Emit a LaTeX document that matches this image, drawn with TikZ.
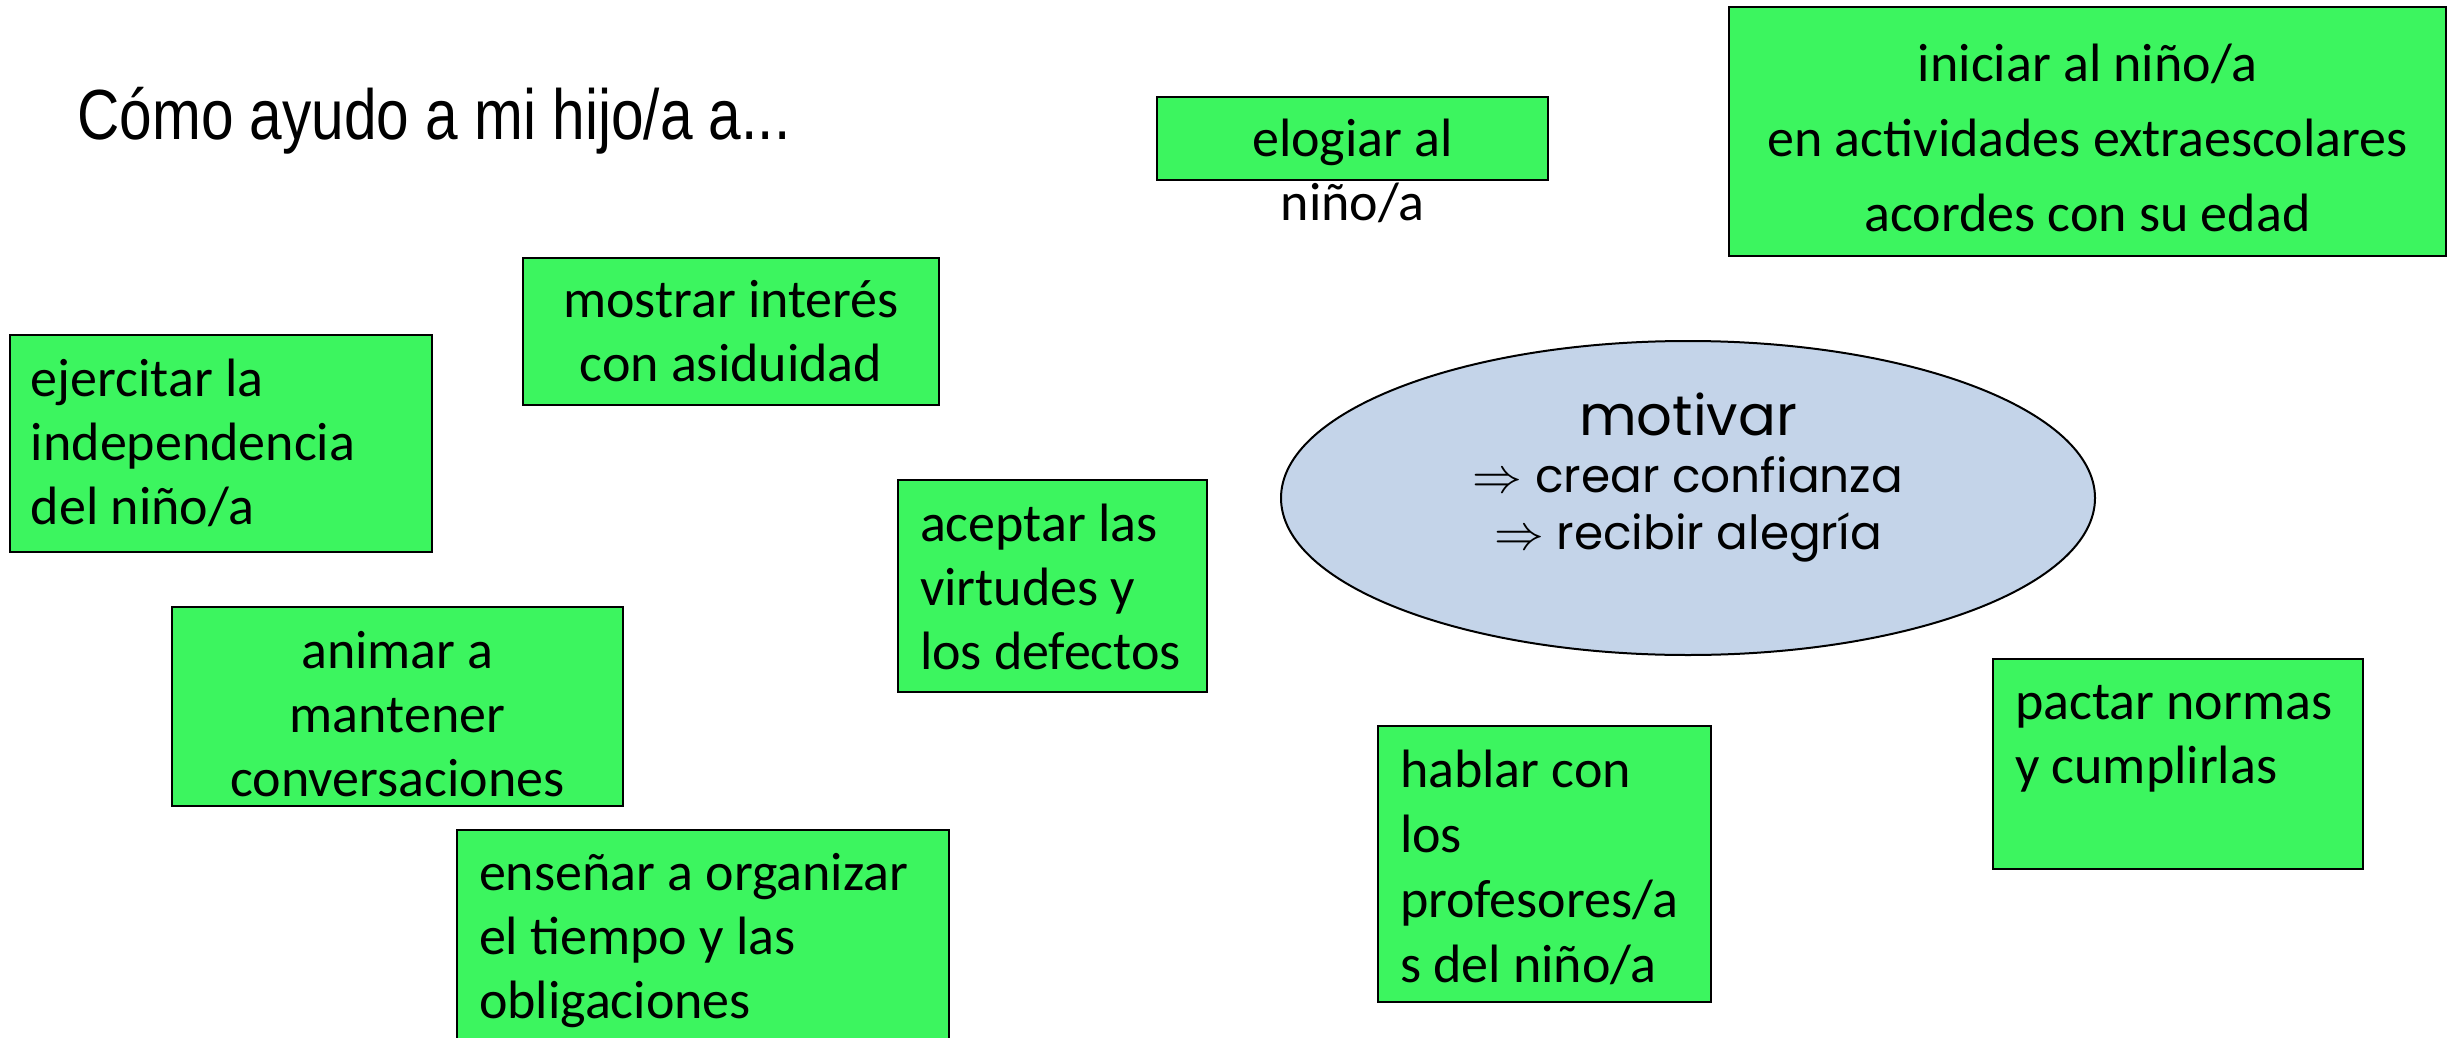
\documentclass[tikz,border=0pt]{standalone}
\usepackage{fontspec}
\setmainfont{Carlito}
\newfontfamily\titlefont{Liberation Sans}
\newfontfamily\elfont{Poppins}
\usetikzlibrary{shapes.geometric}
\definecolor{gfill}{RGB}{60,245,95}
\definecolor{efill}{RGB}{196,212,233}
% #1 width pt, #2 height pt, #3 first baseline below top (pt), #4 format, #5 text
\newcommand\gtext[5]{\parbox[t][#2pt][t]{#1pt}{\fontsize{27}{32}\selectfont #4\vspace*{\dimexpr#3pt-\ht\strutbox\relax}\strut #5\par}}
\tikzset{
  gbox/.style={draw=black, fill=gfill, inner sep=0pt, line width=1pt, anchor=north west},
  ovalbox/.style={ellipse, draw=black, fill=efill, line width=1pt, inner sep=0pt},
}
\begin{document}
\begin{tikzpicture}[x=0.5pt,y=-0.5pt]
\useasboundingbox (0,0) rectangle (2456,1038);
\node[anchor=base west, inner sep=0pt, font=\titlefont\fontsize{35.5}{42}\selectfont] (title) at (77,140) {\scalebox{0.825}[1]{Cómo ayudo a mi hijo/a a...}};

\node[gbox] (elogiar) at (1156,96) {\gtext{195.5}{41.5}{30}{\centering}{elogiar al\\niño/a}};
\node[gbox] (iniciar) at (1728,6) {\gtext{358.5}{124.5}{37.5}{\fontsize{27}{37.5}\selectfont\centering}{iniciar al niño/a\\en actividades extraescolares\\acordes con su edad}};
\node[gbox] (mostrar) at (522,257) {\gtext{208}{73.5}{29.5}{\centering}{mostrar interés\\con asiduidad}};
\node[gbox] (ejercitar) at (9,334) {\gtext{211}{108.5}{30.5}{\raggedright\leftskip=10.5pt}{ejercitar la\\independencia\\del niño/a}};
\node[gbox] (aceptar) at (897,479) {\gtext{154.5}{106}{30.5}{\raggedright\leftskip=11pt}{aceptar las\\virtudes y\\los defectos}};
\node[gbox] (animar) at (171,606) {\gtext{225.5}{99.5}{30.5}{\centering}{animar a\\mantener\\conversaciones}};
\node[gbox] (ensenar) at (456,829) {\gtext{246}{120}{30}{\raggedright\leftskip=11pt}{enseñar a organizar\\el tiempo y las\\obligaciones}};
\node[gbox] (hablar) at (1377,725) {\gtext{166.5}{138}{30.5}{\fontsize{27}{32.5}\selectfont\raggedright\leftskip=11pt}{hablar con\\los\\profesores/a\\s del niño/a}};
\node[gbox] (pactar) at (1992,658) {\gtext{185}{105}{30}{\raggedright\leftskip=11pt}{pactar normas\\y cumplirlas}};

\node[ovalbox, minimum width=407pt, minimum height=157pt] (motivar) at (1688,498)
  {\parbox{220pt}{\centering\elfont
   \fontsize{28}{29}\selectfont motivar\par
   \fontsize{23.5}{28.5}\selectfont $\Rightarrow$ crear confianza\par
   $\Rightarrow$ recibir alegría\par\vspace*{20pt}}};
\end{tikzpicture}
\end{document}
